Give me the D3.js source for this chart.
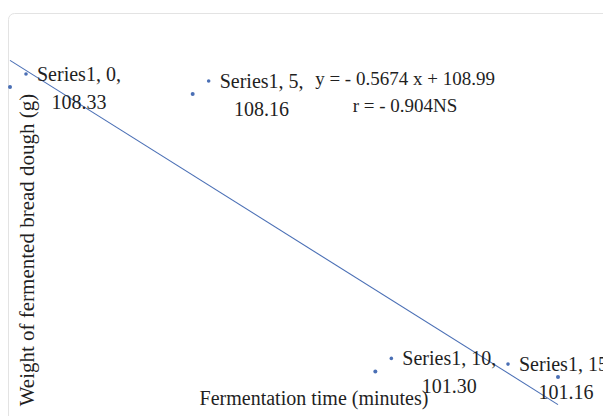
<!DOCTYPE html>
<html>
<head>
<meta charset="utf-8">
<script src="https://cdn.jsdelivr.net/npm/d3@7"></script>
<style>
  body { margin: 0; background: #fff; }
  text { font-family: "Liberation Serif", "Times New Roman", serif; fill: #1f1f1f; }
</style>
</head>
<body>
<svg width="603" height="416"></svg>
<script>
// data
var seriesName = "Series1";
var times = [0, 5, 10, 15];
var weights = [108.33, 108.16, 101.30, 101.16];
var trendSlope = -0.5674;
var trendIntercept = 108.99;
var rText = "r = - 0.904NS";
var xTitle = "Fermentation time (minutes)";
var yTitle = "Weight of fermented bread dough (g)";

var svg = d3.select("svg"),
    width = +svg.attr("width"),
    height = +svg.attr("height");

var points = times.map(function(t, i) { return {x: t, y: weights[i]}; });

var blue = "#4a6fb5";

// chart area frame (cut off right and bottom like the picture)
svg.append("rect")
   .attr("x", 8.5).attr("y", 13.5)
   .attr("width", 700).attr("height", 500)
   .attr("rx", 6)
   .attr("fill", "#fff")
   .attr("stroke", "#e3e3e3");

var x = d3.scaleLinear().domain([0, 15]).range([10, 558]);
var y = d3.scaleLinear().domain([100, 110]).range([424, 19.5]);

// linear trendline
var trend = d3.line()
              .x(function(d) { return x(d); })
              .y(function(d) { return y(trendSlope * d + trendIntercept); });

svg.append("path")
   .datum([0, 15])
   .attr("d", trend)
   .attr("fill", "none")
   .attr("stroke", blue)
   .attr("stroke-width", 1.1);

// points
svg.selectAll(".dot")
   .data(points)
   .enter().append("circle")
   .attr("class", "dot")
   .attr("cx", function(d) { return x(d.x); })
   .attr("cy", function(d) { return y(d.y); })
   .attr("r", 2)
   .attr("fill", blue);

// data labels with legend key
var label = svg.selectAll(".lbl")
               .data(points)
               .enter().append("g")
               .attr("class", "lbl")
               .attr("transform", function(d, i) {
                   var dx = i === points.length - 1 ? -50 : 16;
                   return "translate(" + (x(d.x) + dx) + "," + (y(d.y) - 13) + ")";
               });

label.append("circle")
     .attr("r", 1.8)
     .attr("fill", blue);

label.append("text")
     .attr("class", "l1")
     .attr("x", 11)
     .attr("y", 7)
     .style("font-size", "20px")
     .text(function(d) { return seriesName + ", " + d.x + ","; });

label.append("text")
     .attr("y", 35)
     .attr("text-anchor", "middle")
     .style("font-size", "20px")
     .attr("x", function() {
         var w = this.parentNode.querySelector(".l1").getComputedTextLength();
         return 11 + w / 2;
     })
     .text(function(d) { return d.y.toFixed(2); });

// trendline equation
var eq = svg.append("g").attr("transform", "translate(405,85)");
eq.append("text")
  .attr("text-anchor", "middle")
  .style("font-size", "19px")
  .text("y = - " + Math.abs(trendSlope) + " x + " + trendIntercept);
eq.append("text")
  .attr("y", 27)
  .attr("text-anchor", "middle")
  .style("font-size", "19px")
  .text(rText);

// axis titles
svg.append("text")
   .attr("x", 314)
   .attr("y", 405)
   .attr("text-anchor", "middle")
   .style("font-size", "20px")
   .text(xTitle);

svg.append("text")
   .attr("transform", "translate(34,250) rotate(-90)")
   .attr("text-anchor", "middle")
   .style("font-size", "21px")
   .text(yTitle);
</script>
</body>
</html>
